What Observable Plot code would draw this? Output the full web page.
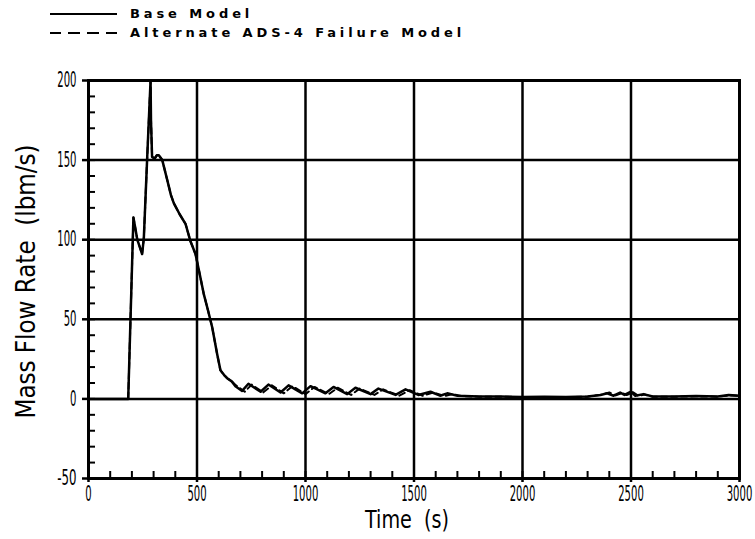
<!DOCTYPE html>
<html>
<head>
<meta charset="utf-8">
<script src="https://cdn.jsdelivr.net/npm/d3@7"></script>
<script src="https://cdn.jsdelivr.net/npm/@observablehq/plot@0.6"></script>
<style>
  html, body { margin: 0; padding: 0; background: #fff; }
  #wrap { position: relative; width: 755px; height: 539px; overflow: hidden; }
  #legend { position: absolute; left: 50px; top: 4px; font-family: "DejaVu Sans", sans-serif; font-weight: bold; font-size: 13px; letter-spacing: 3.9px; color: #000; z-index: 2; }
  .row { display: flex; align-items: center; height: 19px; }
  .sw { width: 67px; height: 0; margin-right: 13px; }
  .solid { border-top: 2.5px solid #000; }
  .dash { border-top: 2.5px solid #000; border-image: repeating-linear-gradient(90deg,#000 0 12px,transparent 12px 18.5px) 1; }
  svg text { white-space: pre; }
</style>
</head>
<body>
<div id="wrap">
  <div id="legend"></div>
  <div id="chart"></div>
</div>
<script>
const seriesNames = ["Base Model", "Alternate ADS-4 Failure Model"];

const baseTime = [0,175,183,207,225,247,255,270,286,288,293,305,315,324,340,362,380,393,420,447,470,493,510,531,550,570,593,608,625,639,660,677,
  708,737,793,829,885,922,985,1023,1092,1129,1192,1230,1300,1336,1415,1461,1520,1576,1620,1653,1700,1800,1900,2000,2100,2200,2300,2360,2390,2420,2450,2470,2500,2520,2558,2600,2700,2800,2900,2950,3000];
const baseFlow = [0,0,0,114,100,91,101,150,200,175,152,151,153,153,150,138,128,123,116,110,99,91,80,66,56,45,28,18,15,13,11,8,
  5,9.5,4.5,9,4,8.5,3.5,8,3.5,7.5,3,7,3,6.5,2.5,6,2.5,4.5,2,3.5,2,1.5,1.5,1.2,1.3,1.2,1.5,2.5,3.5,2,4,2.5,4.5,2,3,1.5,1.5,1.8,1.5,2.5,2];

const altTime = [0,175,183,207,225,247,255,270,286,288,293,305,315,324,340,362,380,393,420,447,470,493,510,531,550,570,593,608,625,639,660,680,
  720,752,805,845,900,940,1000,1042,1108,1148,1210,1250,1318,1358,1432,1480,1540,1590,1640,1675,1720,1800,1900,2000,2100,2200,2300,2370,2400,2430,2460,2480,2510,2535,2560,2600,2700,2800,2900,2960,3000];
const altFlow = [0,0,0,114,100,91,101,150,200,175,152,151,153,153,150,138,128,123,116,110,99,91,80,66,56,45,28,18,15,13,11,8.5,
  4.5,9,4,8.5,3.5,8,3,7.5,3,7,2.5,6.5,2.5,6,2,5.5,2,4,1.8,3,1.8,1.4,1.4,1.2,1.2,1.1,1.4,2.8,4,2.2,3.8,2.4,4.2,1.8,2.8,1.4,1.4,1.6,1.4,2.2,1.8];

const xMajor = [0,500,1000,1500,2000,2500,3000];
const xMinor = d3.range(0, 3001, 100);
const yMajor = [-50,0,50,100,150,200];
const yMinor = d3.range(-50, 201, 10);
const xLabel = "Time  (s)";
const yLabel = "Mass Flow Rate  (lbm/s)";

const base = baseTime.map((t, i) => ({t, v: baseFlow[i]}));
const alt = altTime.map((t, i) => ({t, v: altFlow[i]}));

const legend = document.getElementById("legend");
seriesNames.forEach((n, i) => {
  const r = document.createElement("div");
  r.className = "row";
  r.innerHTML = `<span class="sw ${i ? "dash" : "solid"}"></span><span>${n}</span>`;
  legend.appendChild(r);
});

const font = '"DejaVu Sans Condensed", "Liberation Sans Narrow", sans-serif';
const chart = Plot.plot({
  width: 755,
  height: 539,
  marginLeft: 88,
  marginRight: 16,
  marginTop: 80,
  marginBottom: 61,
  style: {fontFamily: font, color: "#000", background: "transparent", overflow: "visible"},
  x: {domain: [0, 3000]},
  y: {domain: [-50, 200]},
  marks: [
    Plot.gridX(xMajor.slice(1, -1), {stroke: "#000", strokeOpacity: 1, strokeWidth: 2.5}),
    Plot.gridY(yMajor.slice(1, -1), {stroke: "#000", strokeOpacity: 1, strokeWidth: 2.5}),
    Plot.axisX(xMinor, {anchor: "bottom", tickSize: -7, strokeWidth: 2, text: null, label: null}),
    Plot.axisY(yMinor, {anchor: "left", tickSize: -7, strokeWidth: 2, text: null, label: null}),
    Plot.axisX(xMajor, {anchor: "bottom", tickSize: 4, strokeWidth: 2.5, tickPadding: 4, fontSize: 21, tickFormat: d => String(d), label: null}),
    Plot.axisY(yMajor, {anchor: "left", tickSize: 6, strokeWidth: 2.5, tickPadding: 6, fontSize: 21, tickFormat: d => String(d), label: null}),
    Plot.line(base, {x: "t", y: "v", stroke: "#000", strokeWidth: 2.5}),
    Plot.line(alt, {x: "t", y: "v", stroke: "#000", strokeWidth: 2, strokeDasharray: "6,4"}),
    Plot.frame({stroke: "#000", strokeWidth: 3}),
    Plot.text([xLabel], {frameAnchor: "bottom", dx: -7, dy: 49, fontSize: 25, fill: "#000", className: "xlab"}),
    Plot.text([yLabel], {frameAnchor: "left", textAnchor: "middle", rotate: -90, dx: -62, dy: 2, fontSize: 26, fill: "#000", className: "ylab"})
  ]
});
document.getElementById("chart").appendChild(chart);

// narrow, tall lettering like the reference's plotter font
const svg = d3.select(chart);
svg.selectAll('g[aria-label="x-axis tick label"] text, g[aria-label="y-axis tick label"] text')
  .attr("lengthAdjust", "spacingAndGlyphs")
  .attr("textLength", function() { return this.textContent.length * 6.4; });
svg.selectAll('.xlab text').attr("lengthAdjust", "spacingAndGlyphs").attr("textLength", 84);
svg.selectAll('.ylab text').attr("lengthAdjust", "spacingAndGlyphs").attr("textLength", 274);
</script>
</body>
</html>
